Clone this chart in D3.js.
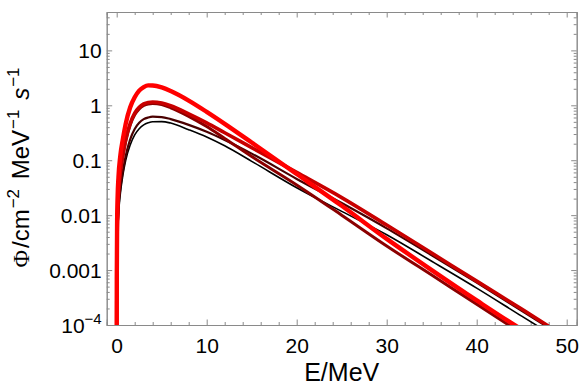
<!DOCTYPE html>
<html>
<head>
<meta charset="utf-8">
<script src="https://cdn.jsdelivr.net/npm/d3@7"></script>
<style>
  body { margin: 0; background: #fff; }
  text { font-family: "Liberation Sans", Arial, sans-serif; fill: #000; }
</style>
</head>
<body>
<div id="chart"></div>
<script>
// energy grid (MeV) shared by all spectra
var energy = [0.002, 0.01, 0.05, 0.1, 0.2, 0.4, 0.7, 1, 1.5, 2, 2.5, 3, 3.5, 4, 5, 6, 8, 10, 12, 15, 20, 25, 30, 35, 40, 45, 48]

// fluxes
var fluxA = [8e-5, 7e-4, 0.008, 0.021, 0.05, 0.12, 0.25, 0.46, 0.92, 1.4, 1.85, 2.15, 2.31, 2.3, 2.12, 1.82, 1.22, 0.76, 0.46, 0.21, 0.056, 0.0148, 3.7e-3, 1.0e-3, 2.8e-4, 8.3e-5, 4.3e-5]
var fluxB = [5e-5, 5e-4, 0.004, 0.01, 0.025, 0.06, 0.13, 0.24, 0.47, 0.72, 0.92, 1.06, 1.13, 1.15, 1.1, 0.98, 0.7, 0.48, 0.316, 0.17, 0.06, 0.0209, 6.6e-3, 2.04e-3, 6.3e-4, 1.95e-4, 9.5e-5]
var fluxC = [4.5e-5, 4.5e-4, 0.0035, 0.009, 0.023, 0.055, 0.12, 0.22, 0.44, 0.67, 0.86, 0.99, 1.06, 1.08, 1.03, 0.9, 0.63, 0.41, 0.25, 0.117, 0.0355, 0.01, 2.75e-3, 8.1e-4, 2.4e-4, 7e-5, 3.4e-5]
var fluxD = [2.5e-5, 2.5e-4, 0.002, 0.005, 0.013, 0.03, 0.065, 0.12, 0.24, 0.37, 0.48, 0.56, 0.6, 0.62, 0.61, 0.56, 0.44, 0.33, 0.234, 0.132, 0.0457, 0.0166, 5.75e-3, 1.86e-3, 5.9e-4, 1.82e-4, 8.9e-5]
var fluxE = [2e-5, 2e-4, 0.0015, 0.004, 0.01, 0.024, 0.055, 0.1, 0.19, 0.29, 0.375, 0.44, 0.48, 0.503, 0.505, 0.475, 0.36, 0.265, 0.183, 0.0955, 0.0316, 0.0117, 4.4e-3, 1.45e-3, 4.7e-4, 1.45e-4, 7.2e-5]

var seriesColors = ["#000000", "#4a0000", "#8b0000", "#c80000", "#ff0000"]
var seriesWidths = [1.6, 2.2, 3, 3.6, 4.4]
var series = [fluxE, fluxD, fluxC, fluxB, fluxA]

var xTicks = [0, 10, 20, 30, 40, 50]
var yTicks = [1e-4, 1e-3, 0.01, 0.1, 1, 10]
var yTickLabels = ["10-4", "0.001", "0.01", "0.1", "1", "10"]

var margin = {top: 12, right: 4.3, bottom: 63, left: 106.7},
    width = 581 - margin.left - margin.right,
    height = 388 - margin.top - margin.bottom

var svg = d3.select("#chart").append("svg")
    .attr("width", 581)
    .attr("height", 388)
  .append("g")
    .attr("transform", "translate(" + margin.left + "," + margin.top + ")")

var x = d3.scaleLinear().domain([-1.111, 51.111]).range([0, width])
var y = d3.scaleLog().domain([1e-4, 50]).range([height, 0])

svg.append("clipPath").attr("id", "clip")
  .append("rect").attr("width", width).attr("height", height)

// minor ticks
var xMinor = d3.range(0, 51, 2).filter(function(d) { return d % 10 != 0 })
var yMinor = []
for (var p = -4; p <= 1; p++) {
  for (var m = 2; m <= 9; m++) {
    var v = m * Math.pow(10, p)
    if (v <= 50) yMinor.push(v)
  }
}

var tickColor = "#8a8a8a"

// bottom / top axes
svg.append("g").attr("class", "xb")
  .attr("transform", "translate(0," + height + ")")
  .call(d3.axisBottom(x).tickValues(xTicks).tickSize(-5.5).tickPadding(13).tickFormat(d3.format("d")))
svg.append("g")
  .attr("transform", "translate(0," + height + ")")
  .call(d3.axisBottom(x).tickValues(xMinor).tickSize(-3).tickFormat(""))
svg.append("g")
  .call(d3.axisTop(x).tickValues(xTicks).tickSize(-5.5).tickFormat(""))
svg.append("g")
  .call(d3.axisTop(x).tickValues(xMinor).tickSize(-3).tickFormat(""))

// left / right axes
svg.append("g")
  .call(d3.axisLeft(y).tickValues(yTicks).tickSize(-5.5).tickFormat(""))
svg.append("g")
  .call(d3.axisLeft(y).tickValues(yMinor).tickSize(-3).tickFormat(""))
svg.append("g")
  .attr("transform", "translate(" + width + ",0)")
  .call(d3.axisRight(y).tickValues(yTicks).tickSize(-5.5).tickFormat(""))
svg.append("g")
  .attr("transform", "translate(" + width + ",0)")
  .call(d3.axisRight(y).tickValues(yMinor).tickSize(-3).tickFormat(""))

svg.selectAll(".domain").attr("stroke", tickColor).attr("stroke-width", 1)
svg.selectAll(".tick line").attr("stroke", tickColor).attr("stroke-width", 1)
svg.selectAll(".xb .tick text").attr("font-size", 21).attr("fill", "#000")
  .attr("font-family", "Liberation Sans, Arial, sans-serif")

// y tick labels, with a superscript for 10^-4
yTicks.forEach(function(d, i) {
  var t = svg.append("text")
      .attr("x", -5)
      .attr("y", y(d))
      .attr("dy", "0.36em")
      .attr("text-anchor", "end")
      .attr("font-size", 21)
  if (d == 1e-4) {
    t.append("tspan").text("10")
    t.append("tspan").attr("font-size", 15).attr("dy", "-0.6em").text("\u22124")
  } else {
    t.text(yTickLabels[i])
  }
})

// spectra
var line = d3.line()
    .x(function(d) { return x(d[0]) })
    .y(function(d) { return y(d[1]) })
    .curve(d3.curveMonotoneX)

var plot = svg.append("g").attr("clip-path", "url(#clip)")
series.forEach(function(s, i) {
  plot.append("path")
    .datum(energy.map(function(e, j) { return [e, s[j]] }))
    .attr("fill", "none")
    .attr("stroke", seriesColors[i])
    .attr("stroke-width", seriesWidths[i])
    .attr("stroke-linejoin", "round")
    .attr("d", line)
})

// axis titles
svg.append("text")
  .attr("x", width / 2)
  .attr("y", height + 56)
  .attr("text-anchor", "middle")
  .attr("font-size", 25)
  .text("E/MeV")

var yl = svg.append("text")
  .attr("transform", "translate(" + (-78) + "," + (height / 2 - 1) + ") rotate(-90)")
  .attr("text-anchor", "middle")
  .attr("font-size", 24)
yl.append("tspan").attr("font-family", "Liberation Serif, Times New Roman, serif").text("\u03a6")
yl.append("tspan").attr("dx", 2).text("/cm")
yl.append("tspan").attr("font-size", 17).attr("dx", 1).attr("dy", "-0.6em").text("\u22122")
yl.append("tspan").attr("dx", 3).attr("dy", "0.43em").text(" MeV")
yl.append("tspan").attr("font-size", 17).attr("dx", 1).attr("dy", "-0.6em").text("\u22121")
yl.append("tspan").attr("dx", 3).attr("dy", "0.43em").attr("font-style", "italic").text(" s")
yl.append("tspan").attr("font-size", 17).attr("dx", 1).attr("dy", "-0.6em").text("\u22121")
</script>
</body>
</html>
